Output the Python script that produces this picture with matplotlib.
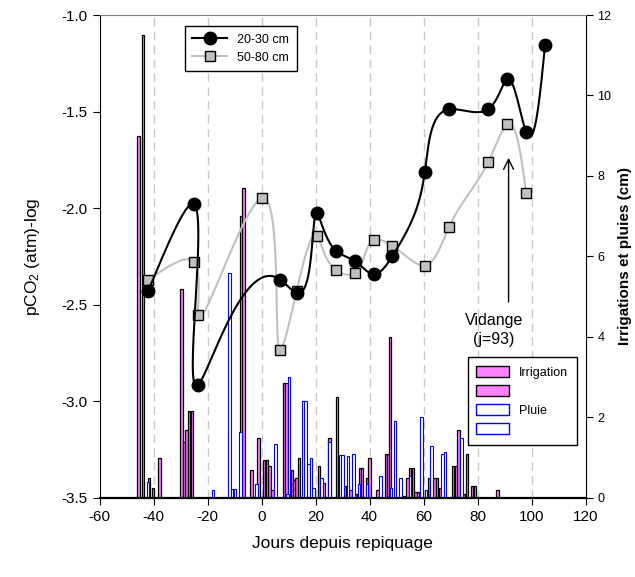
import numpy as np
import matplotlib
matplotlib.use("Agg")
import matplotlib.pyplot as plt
from matplotlib.patches import Patch
from matplotlib.lines import Line2D

plt.rcParams['font.family'] = ['Liberation Sans', 'DejaVu Sans']
plt.rcParams['mathtext.fontset'] = 'custom'
plt.rcParams['mathtext.rm'] = 'Liberation Sans'
plt.rcParams['mathtext.it'] = 'Liberation Sans'
plt.rcParams['axes.unicode_minus'] = False

# pCO2 profiles (log atm)
days_2030 = [-42, -25, -23.5, 7, 13, 20.5, 27.5, 34.5, 41.5, 48.5, 60.5, 69.5, 84, 91, 98, 105]
pco2_2030 = [-2.43, -1.98, -2.915, -2.37, -2.44, -2.026, -2.22, -2.273, -2.342, -2.247,
             -1.811, -1.488, -1.487, -1.331, -1.606, -1.155]
days_5080 = [-42, -25, -23.5, 0, 7, 13, 20.5, 27.5, 34.5, 41.5, 48.5, 60.5, 69.5, 84, 91, 98]
pco2_5080 = [-2.372, -2.278, -2.554, -1.949, -2.735, -2.429, -2.144, -2.32, -2.337, -2.165,
             -2.196, -2.297, -2.096, -1.759, -1.566, -1.92]

# irrigation (cm), two plots
irr1_days = [-45.5, -41.7, -37.8, -29.7, -27.8, -26.8, -7.4, -3.7, -1.1, 1, 3, 8.3, 11.2, 13, 21.2, 23,
             28, 31, 33, 35, 36.4, 39, 43, 46, 47.5, 53, 55, 57, 62, 64, 66, 71, 73, 75, 78, 87.4]
irr1_h = [9.0, 0.5, 1.0, 5.2, 1.7, 2.15, 7.0, 0.7, 1.5, 0.95, 0.8, 2.85, 0.7, 0.5, 0.8, 0.36,
          2.5, 0.3, 0.2, 0.1, 0.75, 0.5, 0.2, 1.1, 4.0, 0.05, 0.75, 0.15, 0.5, 0.5, 0.25, 0.8, 1.7, 0.1, 0.3, 0.2]
irr2_days = [-43.8, -40.2, -28.7, -25.8, -6.6, 2, 4, 9.2, 12.1, 13.8, 25.2, 37.3, 40, 46.8, 54, 56, 58,
             65, 72, 76, 79]
irr2_h = [11.5, 0.25, 1.4, 2.15, 7.7, 0.95, 0.2, 2.85, 0.45, 1.0, 1.5, 0.75, 1.0, 1.1, 0.5, 0.75, 0.15,
          0.5, 0.8, 1.1, 0.3]
# rain (cm)
rain1_days = [-42, -18, -11.9, -9.8, -7.8, -1.9, 5.2, 10.2, 15.3, 17.4, 19.3, 22.2, 29, 32, 36,
              44, 49.5, 51.5, 55, 59.3, 63, 67, 74]
rain1_h = [0.4, 0.2, 5.6, 0.23, 1.65, 0.35, 1.35, 3.0, 2.4, 0.84, 0.25, 0.5, 1.06, 1.05, 0.35,
           0.55, 1.9, 0.5, 0.55, 2.0, 1.3, 1.1, 1.5]
rain2_days = [-11, 9.6, 16.3, 18.3, 25.1, 30, 34, 39, 48, 61, 68]
rain2_h = [0.23, 0.1, 2.4, 1.0, 1.4, 1.06, 1.1, 0.35, 0.25, 0.2, 1.15]


def nat_spline(t, y, ts):
    # natural cubic spline y(t)
    n = len(t)
    h = np.diff(t)
    A = np.zeros((n, n))
    b = np.zeros(n)
    A[0, 0] = A[-1, -1] = 1
    for i in range(1, n - 1):
        A[i, i - 1] = h[i - 1]
        A[i, i] = 2 * (h[i - 1] + h[i])
        A[i, i + 1] = h[i]
        b[i] = 3 * ((y[i + 1] - y[i]) / h[i] - (y[i] - y[i - 1]) / h[i - 1])
    c = np.linalg.solve(A, b)
    bb = (y[1:] - y[:-1]) / h - h * (2 * c[:-1] + c[1:]) / 3
    d = (c[1:] - c[:-1]) / (3 * h)
    k = np.clip(np.searchsorted(t, ts) - 1, 0, n - 2)
    u = ts - t[k]
    return y[k] + bb[k] * u + c[k] * u ** 2 + d[k] * u ** 3


def smooth(x, y):
    # parametric spline, chord length in screen-like units
    x = np.asarray(x, float)
    y = np.asarray(y, float)
    sx, sy = x / 180.0, y / 2.5
    t = np.concatenate([[0], np.cumsum(np.hypot(np.diff(sx), np.diff(sy)))])
    ts = np.linspace(0, t[-1], 1500)
    return nat_spline(t, x, ts), nat_spline(t, y, ts)


fig = plt.figure(figsize=(6.35, 5.77), dpi=100)
ax = fig.add_axes([0.1567, 0.137, 0.7654, 0.837])
ax2 = ax.twinx()
ax.set_zorder(ax2.get_zorder() + 1)
ax.patch.set_visible(False)

for g in range(-40, 120, 20):
    ax2.axvline(g, color='#c8c8c8', lw=1, ls=(0, (6, 4)), zorder=0)

bw = 0.9
ax2.bar(irr1_days, irr1_h, width=bw, color='#ff80ff', edgecolor='black', lw=0.9, zorder=2)
ax2.bar(irr2_days, irr2_h, width=bw, color='#ff80ff', edgecolor='black', lw=0.9, zorder=2)
ax2.bar(rain1_days, rain1_h, width=bw, color='white', edgecolor='#0000ff', lw=0.8, zorder=2)
ax2.bar(rain2_days, rain2_h, width=bw, color='white', edgecolor='#0000ff', lw=0.8, zorder=2)
ax2.set_ylim(0, 12)
ax2.set_yticks(range(0, 13, 2))
ax2.tick_params(axis='y', labelsize=9, direction='out', length=5)
ax2.set_ylabel('Irrigations et pluies (cm)', fontsize=11, fontweight='bold', labelpad=5)

cx, cy = smooth(days_5080, pco2_5080)
ax.plot(cx, cy, color='#c0c0c0', lw=1.5, zorder=3)
ax.plot(days_5080, pco2_5080, 's', ms=7, mfc='#c0c0c0', mec='black', mew=1, zorder=4)
cx, cy = smooth(days_2030, pco2_2030)
ax.plot(cx, cy, color='black', lw=1.5, zorder=5)
ax.plot(days_2030, pco2_2030, 'o', ms=9, mfc='black', mec='black', zorder=6)

ax.set_xlim(-60, 120)
ax.set_ylim(-3.5, -1.0)
ax.set_xticks(range(-60, 121, 20))
ax.set_yticks(np.arange(-3.5, -0.99, 0.5))
ax.set_yticklabels(['%.1f' % v for v in np.arange(-3.5, -0.99, 0.5)])
ax.tick_params(labelsize=11, direction='out', length=5)
ax.set_xlabel('Jours depuis repiquage', fontsize=12.5, labelpad=9)
ax.set_ylabel('pCO$_2$ (atm)-log', fontsize=12.5, labelpad=14)
ax.spines['bottom'].set_linewidth(1.6)
ax.spines['top'].set_color('#808080')
for s in ax2.spines.values():
    s.set_visible(False)

ax.annotate('', xy=(91.5, -1.725), xytext=(91.5, -2.5),
            arrowprops=dict(arrowstyle='->', color='black', lw=1, mutation_scale=18))
ax.text(86, -2.63, 'Vidange\n(j=93)', ha='center', va='center', fontsize=11.5, linespacing=1.3)

h1 = [Line2D([], [], color='black', lw=1.5, marker='o', ms=9),
      Line2D([], [], color='#c0c0c0', lw=1.5, marker='s', ms=7, mfc='#c0c0c0', mec='black')]
leg1 = ax.legend(h1, ['20-30 cm', '50-80 cm'], loc='upper left', bbox_to_anchor=(0.163, 0.99),
                 fontsize=9, frameon=True, fancybox=False, edgecolor='black', framealpha=1,
                 handlelength=2.8, borderpad=0.6)
leg1.get_frame().set_linewidth(1)
ax.add_artist(leg1)

h2 = [Patch(facecolor='#ff80ff', edgecolor='black'), Patch(facecolor='#ff80ff', edgecolor='black'),
      Patch(facecolor='white', edgecolor='#0000ff'), Patch(facecolor='white', edgecolor='#0000ff')]
leg2 = ax.legend(h2, ['Irrigation', '', 'Pluie', ''], loc='lower right', bbox_to_anchor=(0.995, 0.097),
                 fontsize=9, frameon=True, fancybox=False, edgecolor='black', framealpha=1,
                 handlelength=2.6, handleheight=1.0, borderpad=0.7)
leg2.get_frame().set_linewidth(1)

fig.savefig('out.png', dpi=100)
